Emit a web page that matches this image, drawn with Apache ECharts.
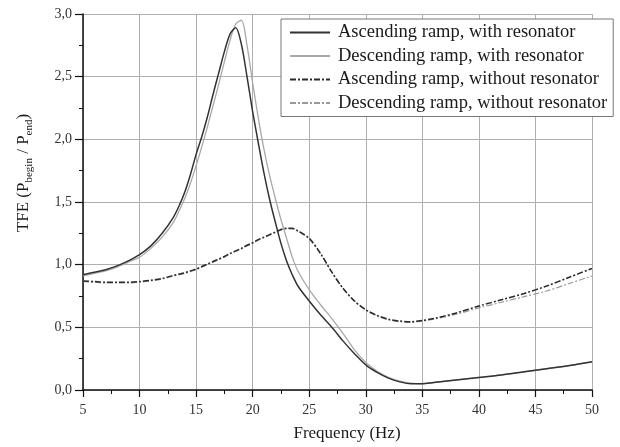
<!DOCTYPE html>
<html lang="en">
<head>
    <meta charset="UTF-8">
    <title>TFE vs frequency</title>
    <script src="https://cdn.jsdelivr.net/npm/echarts@6/dist/echarts.min.js"></script>
    <style>
        html, body { margin: 0; padding: 0; background: #fff; }
        #chart1 { width: 620px; height: 447px; }
    </style>
</head>
<body>
<div id="chart1"></div>
<script type="text/javascript">
    // frequency samples (Hz), shared by every curve
    var freq = [5, 6, 7, 8, 9, 10, 11, 12, 13, 13.5, 14, 14.5, 15, 15.5, 16, 16.5, 17, 17.5, 18, 18.5,
        19, 19.5, 20, 20.5, 21, 21.5, 22, 22.5, 23, 23.5, 24, 25, 26, 27, 28, 29, 30, 31, 32, 33,
        34, 35, 36, 38, 40, 42, 44, 46, 48, 50];

    // ascending ramp, with resonator
    var ascWith = [0.92, 0.94, 0.96, 0.99, 1.03, 1.08, 1.15, 1.25, 1.38, 1.47, 1.58, 1.72, 1.88, 2.02, 2.18, 2.36, 2.53, 2.70, 2.84, 2.89,
        2.76, 2.50, 2.22, 1.97, 1.73, 1.52, 1.34, 1.17, 1.03, 0.92, 0.83, 0.71, 0.60, 0.50, 0.39, 0.29, 0.20, 0.14, 0.095, 0.065,
        0.05, 0.05, 0.06, 0.08, 0.10, 0.12, 0.145, 0.17, 0.195, 0.225];

    // descending ramp, with resonator
    var descWith = [0.91, 0.93, 0.95, 0.98, 1.02, 1.06, 1.13, 1.22, 1.34, 1.43, 1.53, 1.65, 1.79, 1.94, 2.10, 2.27, 2.44, 2.62, 2.79, 2.92,
        2.95, 2.75, 2.45, 2.17, 1.92, 1.71, 1.53, 1.36, 1.21, 1.06, 0.95, 0.80, 0.68, 0.57, 0.45, 0.32, 0.22, 0.15, 0.10, 0.07,
        0.055, 0.05, 0.06, 0.08, 0.10, 0.12, 0.145, 0.17, 0.195, 0.225];

    // ascending ramp, without resonator
    var ascWithout = [0.87, 0.865, 0.86, 0.86, 0.86, 0.865, 0.875, 0.89, 0.915, 0.925, 0.935, 0.95, 0.965, 0.985, 1.005, 1.025, 1.045, 1.065, 1.09, 1.11,
        1.13, 1.155, 1.175, 1.20, 1.22, 1.24, 1.26, 1.28, 1.29, 1.29, 1.27, 1.21, 1.09, 0.94, 0.81, 0.71, 0.64, 0.595, 0.565, 0.55,
        0.545, 0.555, 0.57, 0.615, 0.67, 0.72, 0.77, 0.83, 0.90, 0.97];

    // descending ramp, without resonator
    var descWithout = [0.865, 0.86, 0.855, 0.855, 0.855, 0.86, 0.87, 0.885, 0.91, 0.92, 0.93, 0.945, 0.96, 0.98, 1.0, 1.02, 1.04, 1.06, 1.085, 1.105,
        1.125, 1.15, 1.17, 1.195, 1.215, 1.235, 1.255, 1.275, 1.285, 1.285, 1.265, 1.205, 1.085, 0.94, 0.81, 0.71, 0.64, 0.59, 0.56, 0.545,
        0.54, 0.55, 0.565, 0.605, 0.655, 0.70, 0.745, 0.79, 0.85, 0.91];

    var seriesNames = ['Ascending ramp, with resonator', 'Descending ramp, with resonator',
        'Ascending ramp, without resonator', 'Descending ramp, without resonator'];

    function pairs(ys) {
        return freq.map(function (f, i) { return [f, ys[i]]; });
    }

    var serif = 'Liberation Serif';
    var comma = function (v) { return v.toFixed(1).replace('.', ','); };

    var myChart1 = echarts.init(document.getElementById('chart1'));
    myChart1.setOption({
        backgroundColor: '#fff',
        animation: false,
        grid: { left: 83, right: 28, top: 14, bottom: 54 },
        legend: {
            orient: 'vertical',
            left: 281, top: 19,
            padding: [4, 6, 4, 8],
            itemGap: 4.5,
            itemWidth: 40, itemHeight: 14,
            backgroundColor: '#fff',
            borderColor: '#777', borderWidth: 1,
            itemStyle: { opacity: 0 },
            textStyle: { fontFamily: serif, fontSize: 18.5, lineHeight: 18, color: '#1a1a1a', padding: [0, 0, 0, 3] },
            data: seriesNames
        },
        xAxis: {
            type: 'value', min: 5, max: 50, interval: 5,
            name: 'Frequency (Hz)', nameLocation: 'middle', nameGap: 35,
            nameTextStyle: { fontFamily: serif, fontSize: 17, color: '#1a1a1a', padding: [0, 0, 0, 19] },
            axisLine: { onZero: false, lineStyle: { color: '#111', width: 1.5 } },
            axisTick: { length: 7, lineStyle: { color: '#111', width: 1.2 } },
            minorTick: { show: true, splitNumber: 2, length: 4, lineStyle: { color: '#111' } },
            axisLabel: { fontFamily: serif, fontSize: 14, color: '#333', margin: 13 },
            splitLine: { show: true, lineStyle: { color: '#b0b0b0', width: 1 } }
        },
        yAxis: {
            type: 'value', min: 0, max: 3, interval: 0.5,
            axisLine: { show: true, lineStyle: { color: '#111', width: 1.5 } },
            axisTick: { show: true, length: 8, lineStyle: { color: '#111', width: 1.2 } },
            minorTick: { show: true, splitNumber: 2, length: 4, lineStyle: { color: '#111' } },
            axisLabel: { fontFamily: serif, fontSize: 14, color: '#333', margin: 11, formatter: comma },
            splitLine: { show: true, lineStyle: { color: '#b0b0b0', width: 1 } }
        },
        graphic: [{
            type: 'text',
            x: 24, y: 173,
            rotation: Math.PI / 2,
            style: {
                text: '{m|TFE (P}{s|begin}{m| / P}{s|end}{m|)}',
                align: 'center', verticalAlign: 'middle',
                fill: '#1a1a1a',
                rich: {
                    m: { fontFamily: serif, fontSize: 17, fill: '#1a1a1a' },
                    s: { fontFamily: serif, fontSize: 11, fill: '#1a1a1a', padding: [10, 0, 0, 0] }
                }
            }
        }],
        series: [{
            name: seriesNames[0], type: 'line', smooth: 0.3, symbol: 'none',
            lineStyle: { color: '#333', width: 1.5 }, itemStyle: { color: '#333' },
            data: pairs(ascWith), z: 4
        }, {
            name: seriesNames[1], type: 'line', smooth: 0.3, symbol: 'none',
            lineStyle: { color: '#a8a8a8', width: 1.3 }, itemStyle: { color: '#a8a8a8' },
            data: pairs(descWith), z: 3
        }, {
            name: seriesNames[2], type: 'line', smooth: 0.3, symbol: 'none',
            lineStyle: { color: '#2a2a2a', width: 1.5, type: [6, 2, 2, 2] }, itemStyle: { color: '#2a2a2a' },
            data: pairs(ascWithout), z: 4
        }, {
            name: seriesNames[3], type: 'line', smooth: 0.3, symbol: 'none',
            lineStyle: { color: '#999', width: 1.2, type: [6, 2, 2, 2] }, itemStyle: { color: '#999' },
            data: pairs(descWithout), z: 3
        }]
    });
</script>
</body>
</html>
